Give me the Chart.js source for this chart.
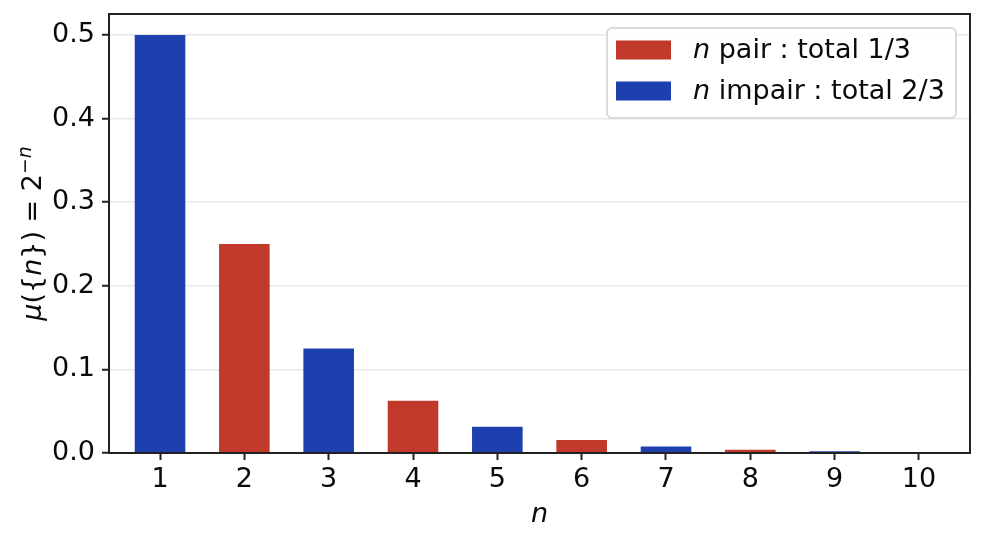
<!DOCTYPE html>
<html lang="fr">
<head>
    <meta charset="UTF-8">
    <title>Mesure géométrique sur N</title>
    <script src="https://cdn.jsdelivr.net/npm/chart.js"></script>
    <style>
        body { margin: 0; background: #fff; }
        canvas { display: block; }
    </style>
</head>
<body>
    <canvas id="chart" width="984" height="545"></canvas>
    <script>
        // valeurs : mu({n}) = 2^-n
        const nValues = [1, 2, 3, 4, 5, 6, 7, 8, 9, 10];
        const muValues = [0.5, 0.25, 0.125, 0.0625, 0.03125, 0.015625, 0.0078125, 0.00390625, 0.001953125, 0.0009765625];
        const yTicks = [0.0, 0.1, 0.2, 0.3, 0.4, 0.5];
        const legendLabels = [['n', ' pair : total 1/3'], ['n', ' impair : total 2/3']];

        const RED = '#c0392b';
        const BLUE = '#1e40af';
        const INK = '#222';
        const TEXT = '#0a0a0a';
        const FONT = 'DejaVu Sans';
        const FS = 27;

        const evenData = [], oddData = [];
        nValues.forEach((n, i) => {
            (n % 2 === 0 ? evenData : oddData).push({ x: n, y: muValues[i] });
        });

        // texte mixte (italique / droit) à la façon mathtext
        function drawRuns(ctx, runs, x, y) {
            let cx = x;
            runs.forEach(r => {
                const size = r.size || FS;
                ctx.font = (r.it ? 'oblique ' : '') + size + 'px "' + FONT + '"';
                ctx.fillText(r.t, cx, y - (r.rise || 0));
                cx += ctx.measureText(r.t).width;
            });
            return cx - x;
        }
        function runsWidth(ctx, runs) {
            let w = 0;
            runs.forEach(r => {
                ctx.font = (r.it ? 'oblique ' : '') + (r.size || FS) + 'px "' + FONT + '"';
                w += ctx.measureText(r.t).width;
            });
            return w;
        }

        const decorations = {
            id: 'decorations',
            afterDraw(chart) {
                const ctx = chart.ctx;
                const a = chart.chartArea;
                ctx.save();

                // cadre complet
                ctx.strokeStyle = INK;
                ctx.lineWidth = 2;
                ctx.strokeRect(a.left, a.top, a.right - a.left, a.bottom - a.top);

                ctx.fillStyle = TEXT;
                ctx.textBaseline = 'alphabetic';

                // titre de l'axe x
                const xl = [{ t: 'n', it: true }];
                drawRuns(ctx, xl, (a.left + a.right) / 2 - runsWidth(ctx, xl) / 2, 522);

                // titre de l'axe y
                const yl = [
                    { t: 'μ', it: true }, { t: '({' }, { t: 'n', it: true }, { t: '})' },
                    { t: ' = ' }, { t: '2' },
                    { t: '−', size: FS * 0.7, rise: FS * 0.36 },
                    { t: 'n', it: true, size: FS * 0.7, rise: FS * 0.36 }
                ];
                ctx.save();
                ctx.translate(41, (a.top + a.bottom) / 2);
                ctx.rotate(-Math.PI / 2);
                drawRuns(ctx, yl, -runsWidth(ctx, yl) / 2, 0);
                ctx.restore();

                // légende
                const bx = 607, by = 28, bw = 349, bh = 90;
                ctx.beginPath();
                ctx.roundRect(bx, by, bw, bh, 5);
                ctx.fillStyle = 'rgba(255,255,255,0.85)';
                ctx.fill();
                ctx.strokeStyle = '#d0d0d0';
                ctx.lineWidth = 1.5;
                ctx.stroke();

                [RED, BLUE].forEach((c, i) => {
                    const cy = 50 + i * 41;
                    ctx.fillStyle = c;
                    ctx.fillRect(616, cy - 9.5, 55, 19);
                    ctx.fillStyle = TEXT;
                    ctx.textBaseline = 'middle';
                    drawRuns(ctx, [{ t: legendLabels[i][0], it: true }, { t: legendLabels[i][1] }], 693, cy + 1);
                });
                ctx.restore();
            }
        };

        new Chart(document.getElementById('chart'), {
            type: 'bar',
            data: {
                datasets: [
                    { label: 'n pair : total 1/3', data: evenData, backgroundColor: RED },
                    { label: 'n impair : total 2/3', data: oddData, backgroundColor: BLUE }
                ]
            },
            options: {
                responsive: false,
                animation: false,
                devicePixelRatio: 1,
                layout: { padding: { top: 14, right: 14, left: 0, bottom: 0 } },
                datasets: { bar: { grouped: false, barPercentage: 0.6, categoryPercentage: 1.0 } },
                plugins: { legend: { display: false }, tooltip: { enabled: false } },
                scales: {
                    x: {
                        type: 'linear',
                        offset: false,
                        min: 0.395,
                        max: 10.605,
                        afterBuildTicks: s => { s.ticks = nValues.map(v => ({ value: v })); },
                        afterFit: s => { s.height = 92; s.paddingLeft = 0; s.paddingRight = 0; },
                        border: { display: false },
                        grid: { offset: false, drawOnChartArea: false, tickLength: 7, tickColor: INK, tickWidth: 2 },
                        ticks: { color: TEXT, padding: 4, font: { family: FONT, size: FS }, maxRotation: 0, callback: v => String(v) }
                    },
                    y: {
                        min: 0,
                        max: 0.525,
                        afterBuildTicks: s => { s.ticks = yTicks.map(v => ({ value: v })); },
                        afterFit: s => { s.width = 109; s.paddingTop = 0; s.paddingBottom = 0; },
                        border: { display: false },
                        grid: { color: '#e8e8e8', lineWidth: 1.5, tickLength: 7, tickColor: INK, tickWidth: 2 },
                        ticks: { color: TEXT, padding: 7, font: { family: FONT, size: FS }, callback: v => v.toFixed(1) }
                    }
                }
            },
            plugins: [decorations]
        });
    </script>
</body>
</html>
